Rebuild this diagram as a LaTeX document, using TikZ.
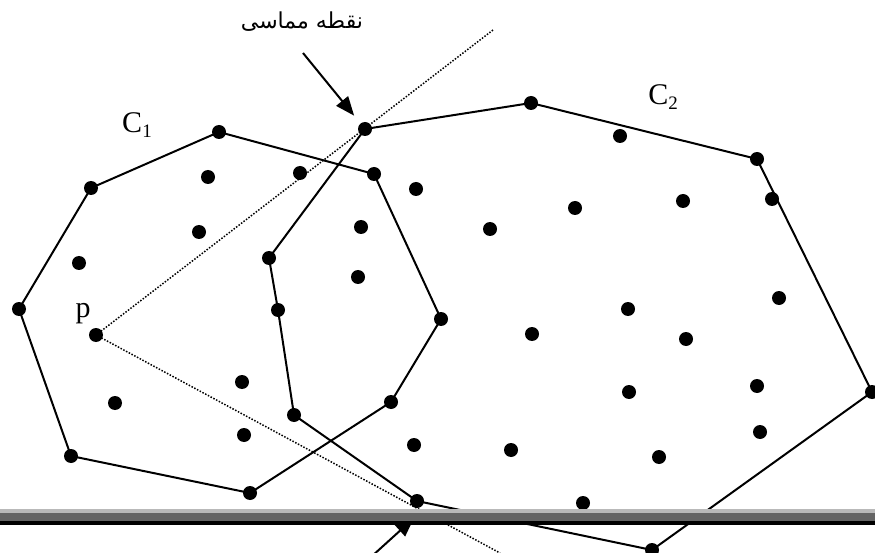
\documentclass[tikz,border=0pt]{standalone}
\usepackage{fontspec}
\setmainfont{Liberation Serif}
\newfontfamily\arabicfont[Script=Arabic]{DejaVu Sans}
\TeXXeTstate=1
\usetikzlibrary{arrows.meta}
\definecolor{barlight}{HTML}{B9B9B9}
\definecolor{bardark}{HTML}{646464}
\tikzset{
  dot/.style={circle,fill=black,inner sep=0pt,minimum size=14pt},
  hull/.style={line width=2pt,line join=round},
  tang/.style={line width=1.5pt,dash pattern=on 1.5pt off 1.6pt},
  pointer/.style={line width=2pt,-{Triangle[length=19pt,width=15pt]}},
  lbl/.style={font=\fontsize{30}{32}\selectfont,inner sep=0pt},
  arlbl/.style={font=\arabicfont\fontsize{22}{24}\selectfont,inner sep=0pt}
}
\newcommand{\subx}[1]{\raisebox{-5pt}{\fontsize{19}{19}\selectfont #1}}
\begin{document}
\begin{tikzpicture}[x=1pt,y=-1pt]
\useasboundingbox (0,0) rectangle (875,553);
% C1 hull vertices
\node[dot] (a1) at (19,309) {};
\node[dot] (a2) at (91,188) {};
\node[dot] (a3) at (219,132) {};
\node[dot] (a4) at (374,174) {};
\node[dot] (a5) at (441,319) {};
\node[dot] (a6) at (391,402) {};
\node[dot] (a7) at (250,493) {};
\node[dot] (a8) at (71,456) {};
% C1 interior
\node[dot] (p) at (96,335) {};
\node[dot] (i1) at (208,177) {};
\node[dot] (i2) at (300,173) {};
\node[dot] (i3) at (199,232) {};
\node[dot] (i4) at (79,263) {};
\node[dot] (i5) at (242,382) {};
\node[dot] (i6) at (115,403) {};
\node[dot] (i7) at (244,435) {};
% C2 hull vertices
\node[dot] (b1) at (365,129) {};
\node[dot] (b2) at (531,103) {};
\node[dot] (b3) at (757,159) {};
\node[dot] (b4) at (872,392) {};
\node[dot] (b5) at (652,550) {};
\node[dot] (b6) at (417,501) {};
\node[dot] (b7) at (294,415) {};
\node[dot] (b8) at (278,310) {};
\node[dot] (b9) at (269,258) {};
% C2 interior
\node[dot] (j1) at (416,189) {};
\node[dot] (j2) at (361,227) {};
\node[dot] (j3) at (358,277) {};
\node[dot] (j4) at (490,229) {};
\node[dot] (j5) at (575,208) {};
\node[dot] (j6) at (620,136) {};
\node[dot] (j7) at (683,201) {};
\node[dot] (j8) at (772,199) {};
\node[dot] (j9) at (779,298) {};
\node[dot] (j10) at (628,309) {};
\node[dot] (j11) at (686,339) {};
\node[dot] (j12) at (532,334) {};
\node[dot] (j13) at (629,392) {};
\node[dot] (j14) at (757,386) {};
\node[dot] (j15) at (760,432) {};
\node[dot] (j16) at (414,445) {};
\node[dot] (j17) at (511,450) {};
\node[dot] (j18) at (659,457) {};
\node[dot] (j19) at (583,503) {};
% hulls
\draw[hull] (a1.center) -- (a2.center) -- (a3.center) -- (a4.center) -- (a5.center) -- (a6.center) -- (a7.center) -- (a8.center) -- cycle;
\draw[hull] (b1.center) -- (b2.center) -- (b3.center) -- (b4.center) -- (b5.center) -- (b6.center) -- (b7.center) -- (b8.center) -- (b9.center) -- cycle;
% tangents
\coordinate (tu) at (493,30);
\coordinate (tl) at (500,553);
\draw[tang] (p.center) -- (tu);
\draw[tang] (p.center) -- (tl);
% labels
\node[lbl] (c1) at (137,125) {C\subx{1}};
\node[lbl] (c2) at (663,97) {C\subx{2}};
\node[lbl] (pl) at (83,314) {p};
\node[arlbl] (tp) at (302,22) {\beginR نقطه مماسی\endR};
% pointers
\coordinate (as) at (303,53);
\draw[pointer,shorten >=10pt] (as) -- (b1);
\coordinate (bs) at (371,557);
\coordinate (be) at (414,518);
\draw[pointer] (bs) -- (be);
% bar
\fill[barlight] (0,509) rectangle (875,513);
\fill[bardark] (0,513) rectangle (875,521);
\fill[black] (0,521) rectangle (875,525);
\end{tikzpicture}
\end{document}
